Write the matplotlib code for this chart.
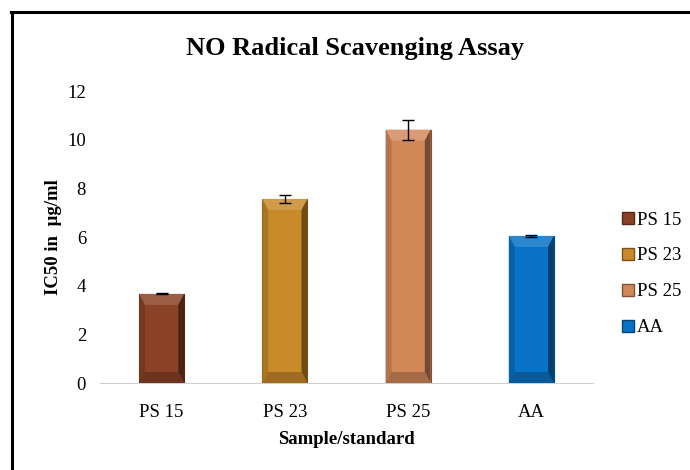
import matplotlib
matplotlib.use('Agg')
import matplotlib.pyplot as plt
from matplotlib.patches import Polygon
from matplotlib.lines import Line2D
import matplotlib.colors as mcolors

categories = ['PS 15', 'PS 23', 'PS 25', 'AA']
ic50 = [3.66, 7.56, 10.41, 6.04]
errors = [0.02, 0.15, 0.41, 0.05]
colors = ['#8a4226', '#c98b2a', '#d3885a', '#0872c6']

plt.rcParams['font.family'] = 'Liberation Serif'


def shade(c, f):
    r, g, b = mcolors.to_rgb(c)
    if f < 1:
        return (r * f, g * f, b * f)
    f = f - 1
    return (r + (1 - r) * f, g + (1 - g) * f, b + (1 - b) * f)


def bevel(ax, bar, color):
    # fake the excel "bevel" look with four trapezoids
    x0 = bar.get_x()
    x1 = x0 + bar.get_width()
    h = bar.get_height()
    bx = bar.get_width() * 0.13
    by = 0.45
    inner = [(x0 + bx, by), (x1 - bx, by), (x1 - bx, h - by), (x0 + bx, h - by)]
    ax.add_patch(Polygon([(x0, h), (x1, h), inner[2], inner[3]], closed=True,
                         facecolor=shade(color, 1.15), edgecolor='none', zorder=3))
    ax.add_patch(Polygon([(x0, 0), (x0, h), inner[3], inner[0]], closed=True,
                         facecolor=shade(color, 0.85), edgecolor='none', zorder=3))
    ax.add_patch(Polygon([(x1, 0), (x1, h), inner[2], inner[1]], closed=True,
                         facecolor=shade(color, 0.55), edgecolor='none', zorder=3))
    ax.add_patch(Polygon([(x0, 0), (x1, 0), inner[1], inner[0]], closed=True,
                         facecolor=shade(color, 0.78), edgecolor='none', zorder=3))


fig = plt.figure(figsize=(6.9, 4.7), dpi=100)
ax = fig.add_axes([100 / 690, 87 / 470, 493 / 690, 292 / 470])

x = range(len(categories))
bars = ax.bar(x, ic50, width=0.365, color=colors, edgecolor=[shade(c, 0.6) for c in colors],
              linewidth=0.8, zorder=2)
for b, c in zip(bars, colors):
    bevel(ax, b, c)
ax.errorbar(x, ic50, yerr=errors, fmt='none', ecolor='black', elinewidth=1,
            capsize=4, capthick=1, zorder=5)

ax.set_xlim(-0.5, 3.5)
ax.set_ylim(0, 12)
ax.set_yticks(range(0, 13, 2))
ax.set_xticks(list(x))
ax.set_xticklabels(categories)
ax.tick_params(length=0, labelsize=13.5, colors='black')
ax.tick_params(axis='y', pad=10)
ax.tick_params(axis='x', pad=15)
for s in ['top', 'right', 'left']:
    ax.spines[s].set_visible(False)
ax.spines['bottom'].set_color('#d0d0d0')

ax.set_xlabel('Sample/standard', fontsize=13.5, fontweight='bold', labelpad=7)
ax.set_ylabel('IC50 in  \u00b5g/ml', fontsize=13.5, fontweight='bold', labelpad=4)
fig.text(355 / 690, 1 - 48 / 470, 'NO Radical Scavenging Assay', ha='center', va='center',
         fontsize=19, fontweight='bold')

handles = [Line2D([], [], marker='s', linestyle='none', markersize=8.5,
                  markerfacecolor=c, markeredgecolor=shade(c, 0.6)) for c in colors]
fig.legend(handles, categories, loc='upper left', bbox_to_anchor=(611 / 690, 1 - 204 / 470),
           frameon=False, fontsize=13.5, handletextpad=0.0, labelspacing=1.0,
           handlelength=1.0, borderaxespad=0)

# outer frame (only top and left visible in the original crop)
fig.add_artist(Line2D([11 / 690, 1], [1 - 12 / 470, 1 - 12 / 470], color='black', lw=2.2))
fig.add_artist(Line2D([12 / 690, 12 / 690], [0, 1 - 12 / 470], color='black', lw=2.2))

fig.savefig('out.png', dpi=100)
